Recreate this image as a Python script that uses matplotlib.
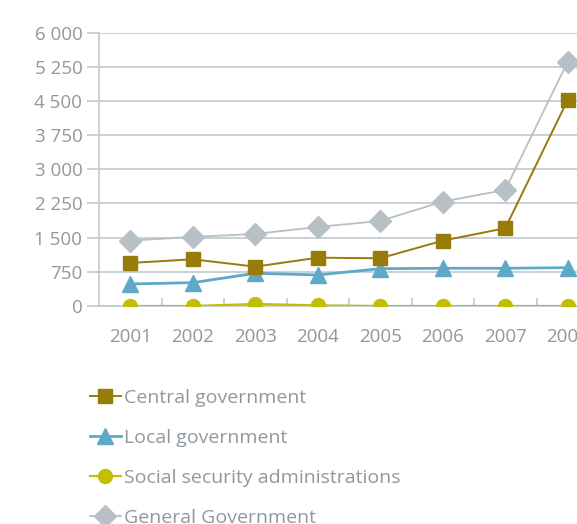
import matplotlib
matplotlib.use("Agg")
import matplotlib.pyplot as plt
from matplotlib.ticker import FixedLocator

years = [2001, 2002, 2003, 2004, 2005, 2006, 2007, 2008]
central = [944, 1025, 863, 1060, 1047, 1434, 1706, 4523]
local = [483, 512, 718, 681, 819, 828, 828, 841]
social = [0, 0, 44, 15, 0, 0, 0, 0]
general = [1434, 1515, 1581, 1734, 1866, 2290, 2547, 5363]
yticks = [0, 750, 1500, 2250, 3000, 3750, 4500, 5250, 6000]
ytick_labels = ["0", "750", "1 500", "2 250", "3 000", "3 750", "4 500", "5 250", "6 000"]
labels = ["Central government", "Local government", "Social security administrations", "General Government"]

plt.rcParams['font.family'] = ['Open Sans', 'DejaVu Sans']
TXT = "#8e989e"
GRID = "#bec8ce"

fig = plt.figure(figsize=(5.77, 5.24), dpi=100)
ax = fig.add_axes([99/577, 1 - 306/524, 500/577, (306-32.5)/524])

h1, = ax.plot(years, central, color="#977b0b", lw=1.4, marker="s", ms=10, zorder=4)
h2, = ax.plot(years, local, color="#5ea8c8", lw=2.0, marker="^", ms=12, zorder=3)
h3, = ax.plot(years, social, color="#c3bf00", lw=1.6, marker="o", ms=10, zorder=3)
h4, = ax.plot(years, general, color="#b6c0c5", lw=1.3, marker="D", ms=11, zorder=2)

ax.set_xlim(2000.5, 2008.5)
ax.set_ylim(0, 6000)
ax.set_yticks(yticks)
ax.set_yticklabels(ytick_labels)
ax.set_xticks(years)
ax.xaxis.set_minor_locator(FixedLocator([y + 0.5 for y in years]))
ax.tick_params(axis='x', which='major', length=0, pad=16, labelsize=13.5, labelcolor=TXT)
ax.tick_params(axis='x', which='minor', length=6, direction='in', color=GRID, width=1.2)
ax.tick_params(axis='y', length=9, color=GRID, width=1.2, pad=3, labelsize=13.5, labelcolor=TXT)
ax.grid(axis='y', color=GRID, lw=1.2, zorder=0)
ax.set_axisbelow(True)
for s in ['top', 'right']:
    ax.spines[s].set_visible(False)
for s in ['left', 'bottom']:
    ax.spines[s].set_color(GRID)
    ax.spines[s].set_linewidth(1.2)

leg = fig.legend([h1, h2, h3, h4], labels, loc='upper left',
                 bbox_to_anchor=(82/577, 1 - 381/524), frameon=False,
                 fontsize=14, labelcolor=TXT, handlelength=1.6, handletextpad=0.15,
                 labelspacing=1.14, borderaxespad=0)

fig.savefig("out.png", dpi=100)
